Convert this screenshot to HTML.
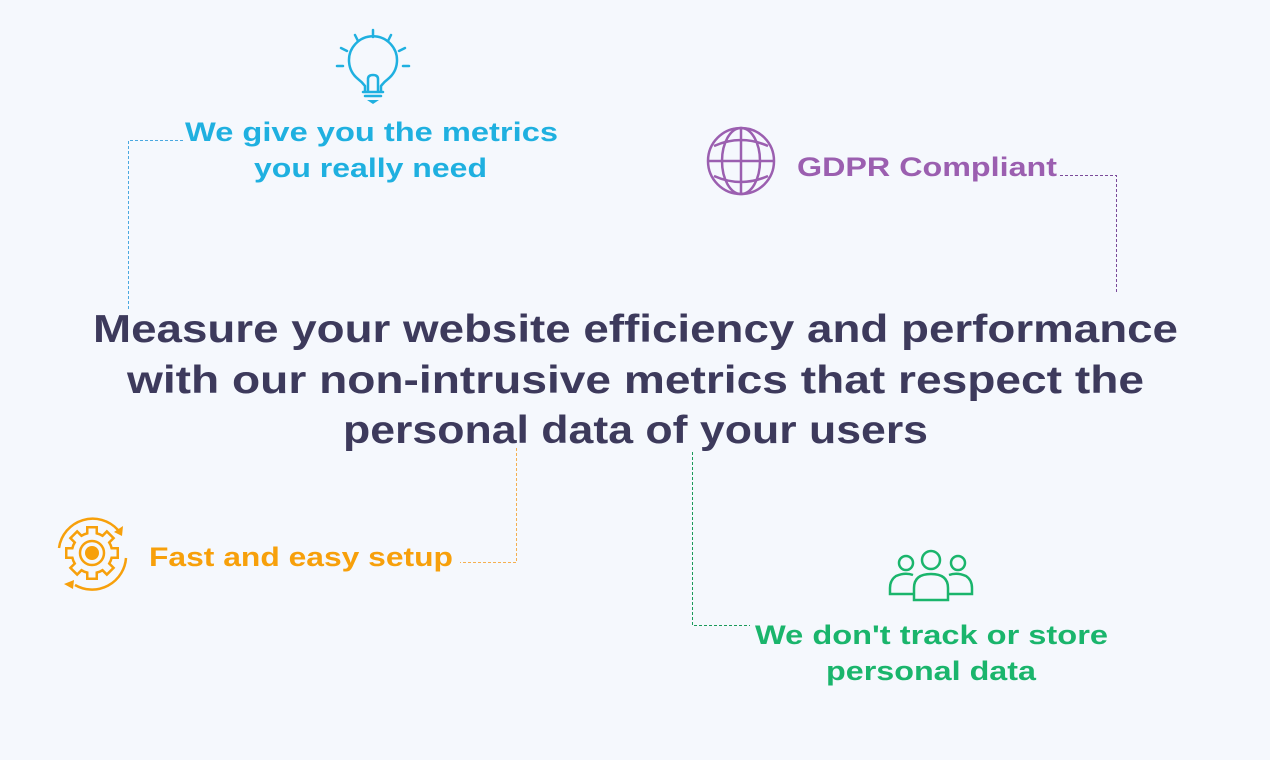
<!DOCTYPE html>
<html><head><meta charset="utf-8"><style>
html,body{margin:0;padding:0;background:#f5f8fd;}
svg{display:block}
text{font-family:"Liberation Sans",sans-serif;font-weight:bold}
</style></head><body>
<svg width="1270" height="760" viewBox="0 0 1270 760" xmlns="http://www.w3.org/2000/svg">
<rect width="1270" height="760" fill="#f5f8fd"/>
<!-- dashed connectors -->
<g fill="none" stroke-width="1" stroke-dasharray="3,2">
<path d="M183 140.5H128.5V310" stroke="#4aa8e0"/>
<path d="M1060 175.5H1116.5V293" stroke="#7a4a9a"/>
<path d="M516.5 448V562.5H460" stroke="#f5b050"/>
<path d="M692.5 452V625.5H750" stroke="#1a9a5a"/>
</g>
<!-- bulb -->
<g fill="none" stroke="#1fb0e0" stroke-width="2.5" stroke-linecap="round">
<path d="M365 91V86Q362 82 358 79A24 24 0 1 1 388 79Q384 82 381 86V91"/>
<path d="M368 91V79Q368 75 373 75Q378 75 378 79V91"/>
<path d="M363 92H383M365 96H381"/>
<path d="M373 30V37M355 35L358 41M391 35L388 41M341 48L347 51M405 48L399 51M337 66H343M403 66H409"/>
</g>
<path d="M367 100H379L373 104Z" fill="#1fb0e0"/>
<!-- globe -->
<g fill="none" stroke="#9b5fb0" stroke-width="2.5">
<circle cx="741" cy="161" r="33"/>
<ellipse cx="741" cy="161" rx="19" ry="33"/>
<path d="M741 128V194M708 161H774M714 146Q741 134 768 146M714 176Q741 188 768 176"/>
</g>
<!-- gear -->
<g transform="translate(92,553)">
<g fill="#f7a00b">
<circle r="21.5"/>
<rect x="-6" y="-27" width="12" height="54"/>
<rect x="-6" y="-27" width="12" height="54" transform="rotate(45)"/>
<rect x="-6" y="-27" width="12" height="54" transform="rotate(90)"/>
<rect x="-6" y="-27" width="12" height="54" transform="rotate(135)"/>
</g>
<g fill="#f5f8fd">
<circle r="19"/>
<rect x="-3.5" y="-24.5" width="7" height="49"/>
<rect x="-3.5" y="-24.5" width="7" height="49" transform="rotate(45)"/>
<rect x="-3.5" y="-24.5" width="7" height="49" transform="rotate(90)"/>
<rect x="-3.5" y="-24.5" width="7" height="49" transform="rotate(135)"/>
</g>
<circle r="12" fill="none" stroke="#f7a00b" stroke-width="2.5"/>
<circle r="7" fill="#f7a00b"/>
</g>
<g fill="none" stroke="#f7a00b" stroke-width="2.5">
<path d="M59 548A34 34 0 0 1 118 530"/>
<path d="M126 558A34 34 0 0 1 75 585"/>
</g>
<path d="M123 526l-1 10-8-4z M64 584l10-4-1 9z" fill="#f7a00b"/>
<!-- people -->
<g fill="none" stroke="#1ab56c" stroke-width="2.5">
<circle cx="931" cy="560" r="9"/>
<circle cx="906" cy="563" r="7"/>
<circle cx="958" cy="563" r="7"/>
<path d="M914 600V588Q914 574 931 574Q948 574 948 588V600Z"/>
<path d="M913 575Q905 572 896 576Q890 580 890 588V594H913M949 575Q957 572 966 576Q972 580 972 588V594H949"/>
</g>
<!-- texts -->
<g fill="#1fb0e0" font-size="27">
<text x="185" y="141" textLength="373" lengthAdjust="spacingAndGlyphs">We give you the metrics</text>
<text x="254" y="177" textLength="233" lengthAdjust="spacingAndGlyphs">you really need</text>
</g>
<text x="797" y="176" font-size="27" fill="#9b5fb0" textLength="260" lengthAdjust="spacingAndGlyphs">GDPR Compliant</text>
<g fill="#3d3a5c" font-size="39">
<text x="93" y="342" textLength="1085" lengthAdjust="spacingAndGlyphs">Measure your website efficiency and performance</text>
<text x="127" y="393" textLength="1017" lengthAdjust="spacingAndGlyphs">with our non-intrusive metrics that respect the</text>
<text x="343" y="443" textLength="585" lengthAdjust="spacingAndGlyphs">personal data of your users</text>
</g>
<text x="149" y="566" font-size="27" fill="#f7a00b" textLength="304" lengthAdjust="spacingAndGlyphs">Fast and easy setup</text>
<g fill="#1ab56c" font-size="27">
<text x="755" y="644" textLength="353" lengthAdjust="spacingAndGlyphs">We don't track or store</text>
<text x="826" y="680" textLength="210" lengthAdjust="spacingAndGlyphs">personal data</text>
</g>
</svg>
</body></html>
